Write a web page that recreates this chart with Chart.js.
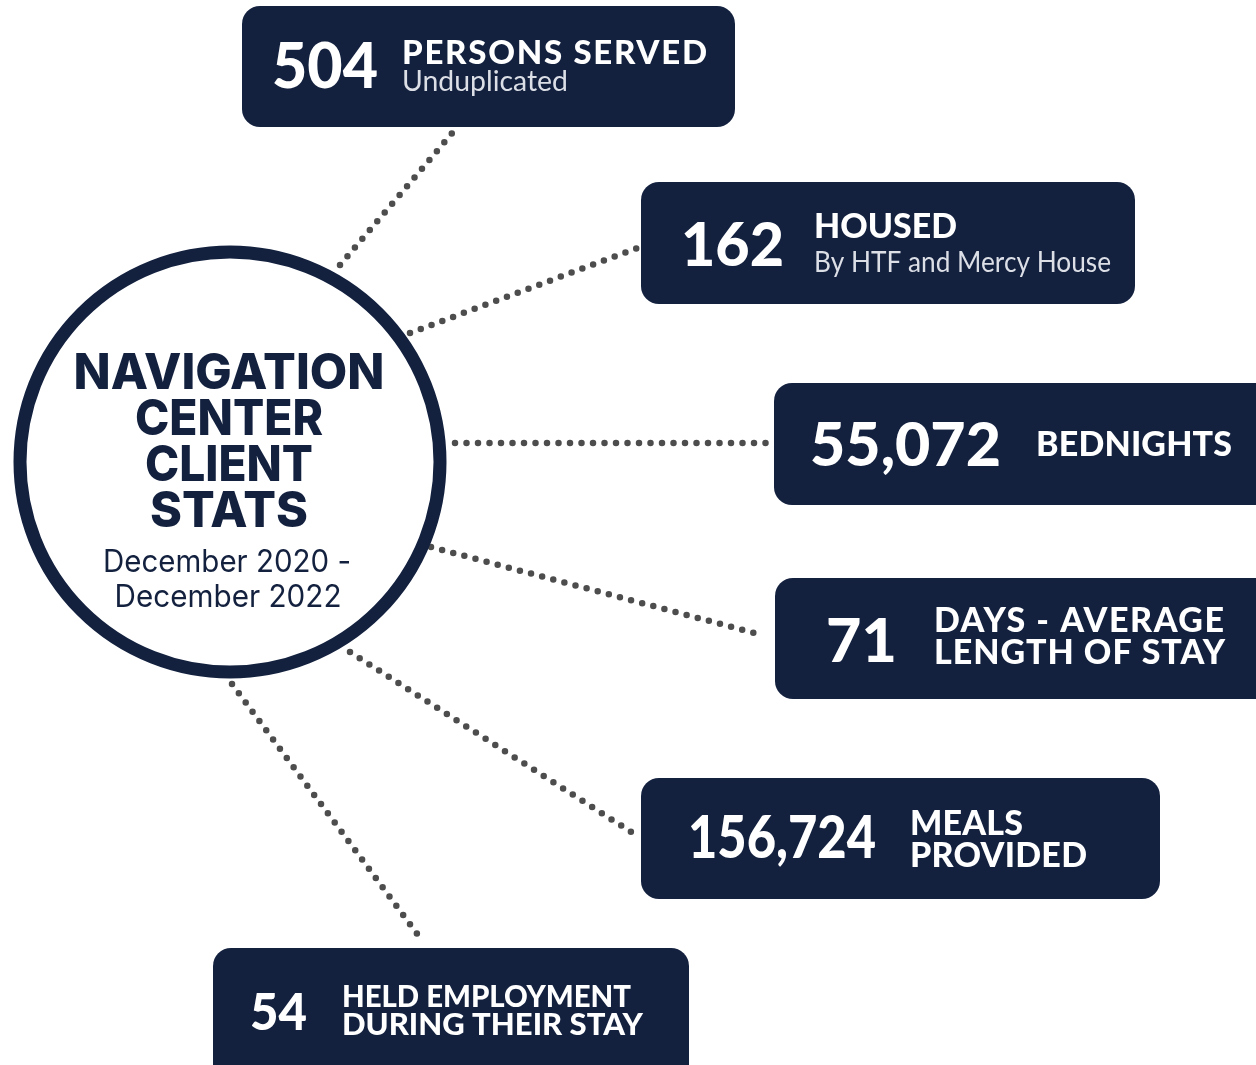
<!DOCTYPE html>
<html>
<head>
<meta charset="utf-8">
<title>Navigation Center Client Stats</title>
<script src="https://cdn.jsdelivr.net/npm/chart.js@4.4.0/dist/chart.umd.min.js"></script>
<style>
  html, body { margin: 0; padding: 0; background: #ffffff; }
  #wrap { width: 1256px; height: 1065px; position: relative; }
</style>
</head>
<body>
<div id="wrap"><canvas id="statsChart"></canvas></div>
<script>
  // Stat values and their labels
  const statValues = [504, 162, 55072, 71, 156724, 54];
  const statTitles = [
    ['PERSONS SERVED'],
    ['HOUSED'],
    ['BEDNIGHTS'],
    ['DAYS - AVERAGE', 'LENGTH OF STAY'],
    ['MEALS', 'PROVIDED'],
    ['HELD EMPLOYMENT', 'DURING THEIR STAY']
  ];
  const statNotes = ['Unduplicated', 'By HTF and Mercy House', '', '', '', ''];
  const centerTitle = ['NAVIGATION', 'CENTER', 'CLIENT', 'STATS'];
  const centerPeriod = ['December 2020 -', 'December 2022'];

  // Layout (page units, same as the hidden axes)
  const navy = '#13213f';
  const boldFont = 'Lato, "Open Sans", sans-serif';
  const hub = { x: 230, y: 462, r: 210, ring: 13 };
  const boxes = [
    { x: 242, y: 6,   w: 493, h: 121, numX: 272, numY: 88,   numSize: 63, numW: 106, txtX: 402, txtY: [64],        txtSize: 33, txtW: [305], noteY: 91,  noteW: 166 },
    { x: 641, y: 182, w: 494, h: 122, numX: 681, numY: 266,  numSize: 61, numW: 103, txtX: 814, txtY: [238],       txtSize: 35, txtW: [143], noteY: 272, noteW: 297 },
    { x: 774, y: 383, w: 520, h: 122, numX: 810, numY: 466,  numSize: 61, numW: 191, txtX: 1036, txtY: [456],      txtSize: 34, txtW: [196] },
    { x: 775, y: 578, w: 520, h: 121, numX: 826, numY: 662,  numSize: 61, numW: 71,  txtX: 934, txtY: [632, 664], txtSize: 34, txtW: [290, 291] },
    { x: 641, y: 778, w: 519, h: 121, numX: 688, numY: 858,  numSize: 59, numW: 188, txtX: 910, txtY: [835, 867], txtSize: 34, txtW: [113, 177] },
    { x: 213, y: 948, w: 476, h: 140, numX: 250, numY: 1030, numSize: 51, numW: 57,  txtX: 342, txtY: [1007, 1035], txtSize: 31, txtW: [289, 301] }
  ];
  const connectors = [
    [[340, 265], [454, 131]],
    [[410, 333], [640, 247]],
    [[455, 443], [770, 443]],
    [[431, 547], [762, 635]],
    [[350, 652], [639, 837]],
    [[232, 684], [418, 935]]
  ];

  function roundRect(ctx, x, y, w, h, r) {
    ctx.beginPath();
    ctx.moveTo(x + r, y);
    ctx.arcTo(x + w, y, x + w, y + h, r);
    ctx.arcTo(x + w, y + h, x, y + h, r);
    ctx.arcTo(x, y + h, x, y, r);
    ctx.arcTo(x, y, x + w, y, r);
    ctx.closePath();
  }

  // write left-aligned text spread (or squeezed) to a given width
  function fitText(ctx, text, x, y, w) {
    ctx.letterSpacing = '0px';
    const natural = ctx.measureText(text).width;
    if (natural < w && text.length > 1) {
      const gap = Math.min(4, (w - natural) / (text.length - 1));
      ctx.letterSpacing = gap + 'px';
      ctx.fillText(text, x, y);
      ctx.letterSpacing = '0px';
    } else {
      ctx.fillText(text, x, y, w);
    }
  }

  // Draws the hub circle and the stat boxes on top of the dotted connectors
  const infographicPlugin = {
    id: 'infographic',
    afterDatasetsDraw(chart) {
      const ctx = chart.ctx;
      const sx = v => chart.scales.x.getPixelForValue(v);
      const sy = v => chart.scales.y.getPixelForValue(v);
      ctx.save();

      // hub ring
      ctx.beginPath();
      ctx.arc(sx(hub.x), sy(hub.y), hub.r, 0, Math.PI * 2);
      ctx.fillStyle = '#ffffff';
      ctx.fill();
      ctx.lineWidth = hub.ring;
      ctx.strokeStyle = navy;
      ctx.stroke();

      ctx.fillStyle = navy;
      ctx.textAlign = 'center';
      ctx.textBaseline = 'alphabetic';
      ctx.font = '800 50px Inter, "Open Sans", sans-serif';
      const titleW = [311, 188, 168, 158];
      centerTitle.forEach((t, i) => {
        ctx.fillText(t, sx(hub.x - 1), sy(389 + i * 46), titleW[i]);
      });
      ctx.font = '400 31px Inter, "Open Sans", sans-serif';
      ctx.fillText(centerPeriod[0], sx(hub.x - 3), sy(572), 248);
      ctx.fillText(centerPeriod[1], sx(hub.x - 2), sy(607), 227);

      // stat boxes
      ctx.textAlign = 'left';
      boxes.forEach((b, i) => {
        roundRect(ctx, sx(b.x), sy(b.y), b.w, b.h, 18);
        ctx.fillStyle = navy;
        ctx.fill();

        ctx.fillStyle = '#ffffff';
        ctx.font = '900 ' + b.numSize + 'px ' + boldFont;
        ctx.fillText(statValues[i].toLocaleString('en-US'), sx(b.numX), sy(b.numY), b.numW);

        ctx.font = '900 ' + b.txtSize + 'px ' + boldFont;
        statTitles[i].forEach((t, j) => {
          fitText(ctx, t, sx(b.txtX), sy(b.txtY[j]), b.txtW[j]);
        });

        if (statNotes[i]) {
          ctx.fillStyle = '#dcdfe6';
          ctx.font = '400 29px Lato, "Open Sans", sans-serif';
          ctx.fillText(statNotes[i], sx(b.txtX), sy(b.noteY), b.noteW);
        }
      });
      ctx.restore();
    }
  };

  const connectorSets = connectors.map(c => ({
    data: c.map(p => ({ x: p[0], y: p[1] })),
    showLine: true,
    borderColor: '#4d4d4d',
    borderWidth: 6.5,
    borderDash: [0, 11.5],
    borderCapStyle: 'round',
    pointRadius: 0,
    fill: false
  }));

  new Chart(document.getElementById('statsChart').getContext('2d'), {
    type: 'scatter',
    data: { datasets: connectorSets },
    options: {
      responsive: true,
      maintainAspectRatio: false,
      animation: false,
      layout: { padding: 0 },
      plugins: { legend: { display: false }, tooltip: { enabled: false } },
      scales: {
        x: { type: 'linear', min: 0, max: 1256, display: false },
        y: { type: 'linear', min: 0, max: 1065, reverse: true, display: false }
      }
    },
    plugins: [infographicPlugin]
  });
</script>
</body>
</html>
